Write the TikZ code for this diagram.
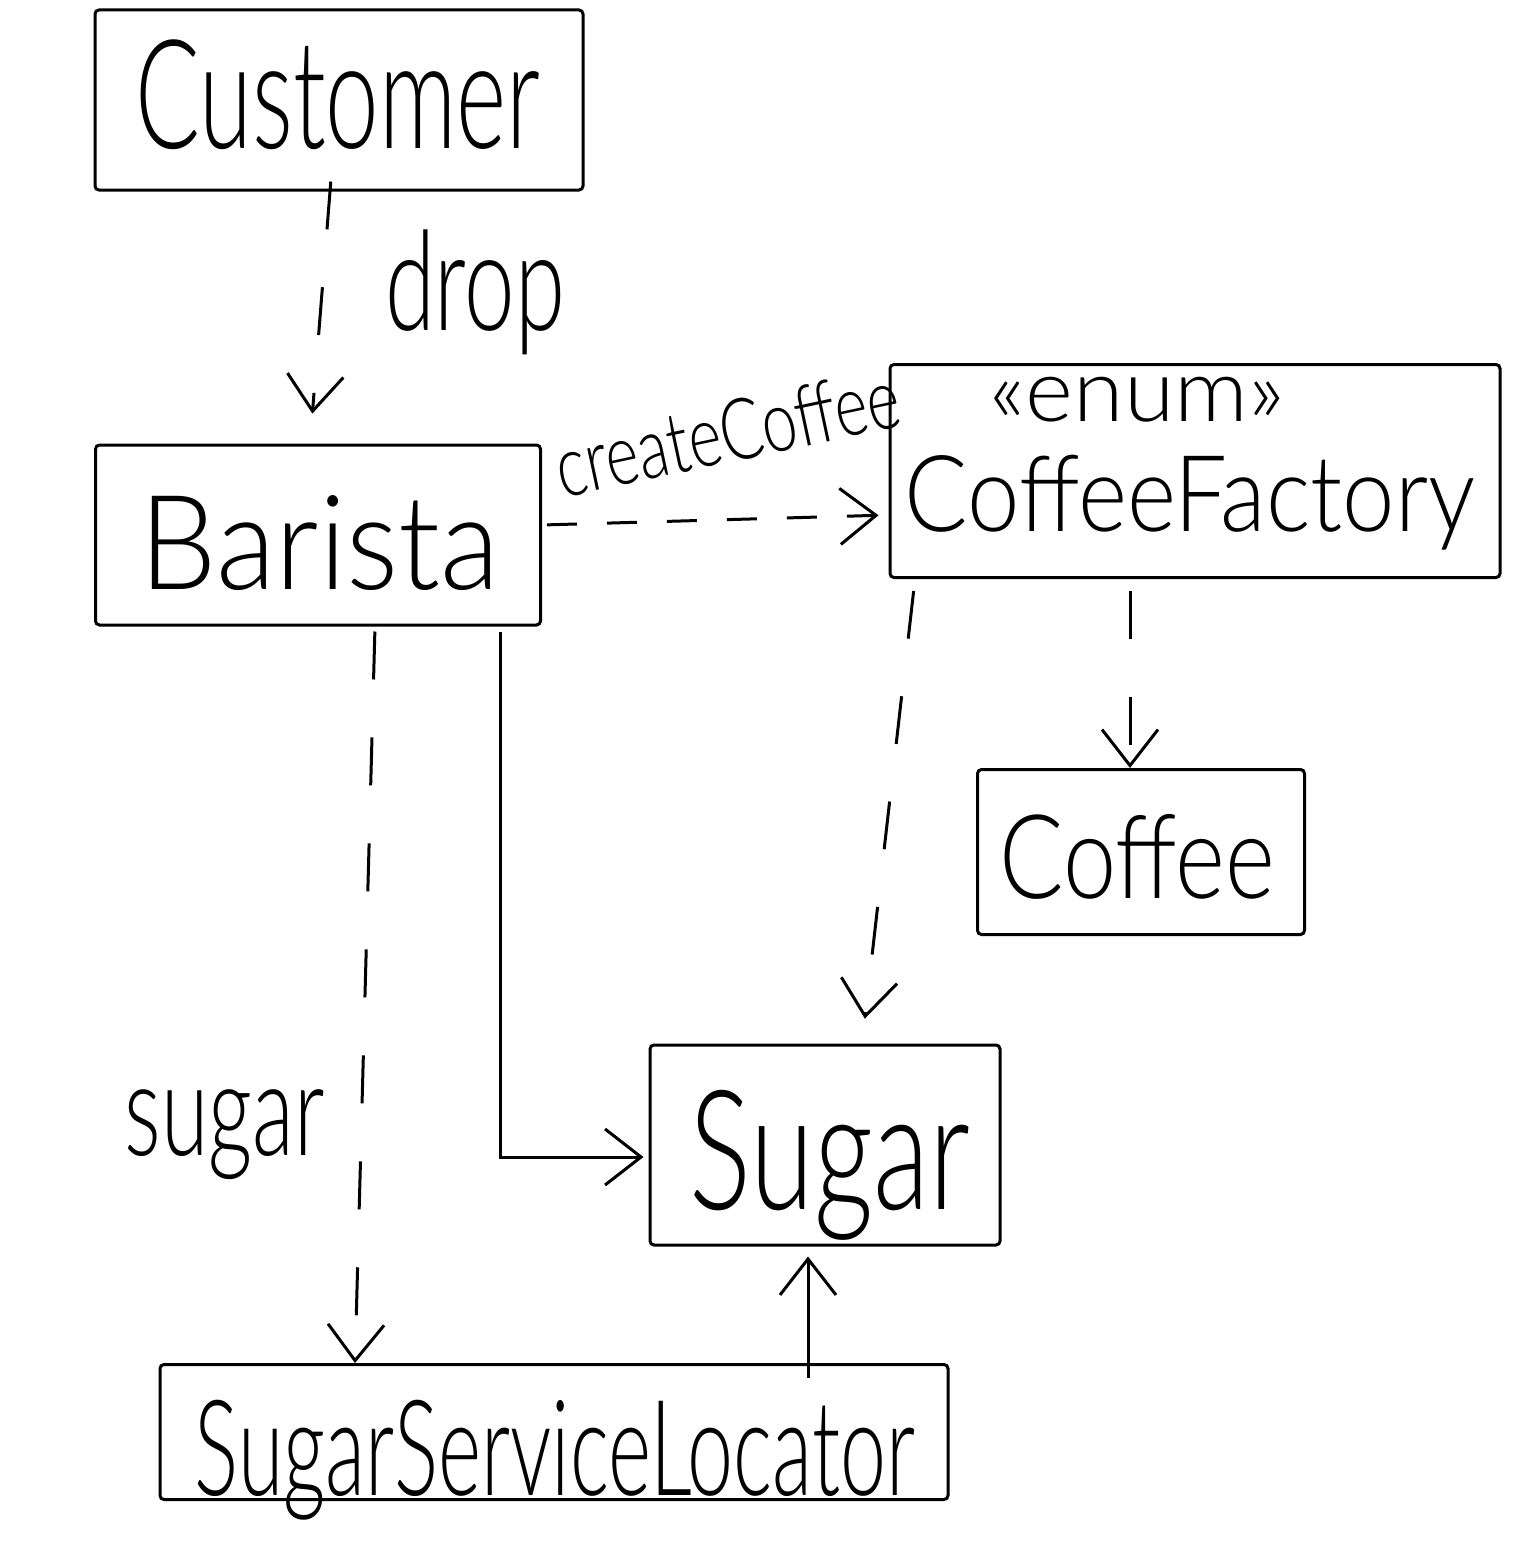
\documentclass[tikz,border=0pt]{standalone}
\usepackage{fontspec}
\setmainfont{Lato}[UprightFont=* Light]
\usepackage{graphicx}
\usetikzlibrary{arrows.meta,calc}
\newcommand{\fitt}[3]{\resizebox*{#1}{#2}{#3}}
\begin{document}
\begin{tikzpicture}[x=1pt,y=-1pt,
  box/.style={draw,line width=3pt,inner sep=0pt,rounded corners=4pt},
  lbl/.style={inner sep=0pt,anchor=center},
  dep/.style={line width=3pt,dash pattern=on 48pt off 58pt},
  hdep/.style={line width=3pt,dash pattern=on 30pt off 30pt},
  sol/.style={line width=3pt},
  vee/.style={-{Straight Barb[length=36pt,width=56pt,line width=3pt]}}]
\fill[white] (0,0) rectangle (1536,1552);
\useasboundingbox (0,0) rectangle (1536,1552);
% boxes
\node[box,minimum width=488pt,minimum height=180pt] (cust) at (339,100) {};
\node[box,minimum width=445pt,minimum height=180pt] (bar) at (318,535) {};
\node[box,minimum width=610pt,minimum height=213pt] (cf) at (1195,471) {};
\node[box,minimum width=327pt,minimum height=165pt] (coffee) at (1141,852) {};
\node[box,minimum width=350pt,minimum height=200pt] (sugar) at (825,1145) {};
\node[box,minimum width=788pt,minimum height=135pt] (ssl) at (554,1432) {};
% texts
\node[lbl] (tcust) at (338,95) {\fitt{405pt}{110pt}{Customer}};
\node[lbl] (tbar) at (320,543) {\fitt{360pt}{95pt}{Barista}};
\node[lbl] (tenum) at (1137,400) {\fitt{295pt}{45pt}{«enum»}};
\node[lbl] (tcf) at (1190,503) {\fitt{570pt}{95pt}{CoffeeFactory}};
\node[lbl] (tcoffee) at (1137,857) {\fitt{275pt}{85pt}{Coffee}};
\node[lbl] (tsugar) at (830,1165) {\fitt{280pt}{150pt}{Sugar}};
\node[lbl] (tssl) at (555,1460) {\fitt{720pt}{120pt}{SugarServiceLocator}};
% labels
\node[lbl] (ldrop) at (475,292) {\fitt{180pt}{125pt}{drop}};
\node[lbl,rotate=12] (lcc) at (727,432) {\fitt{350pt}{62pt}{createCoffee}};
\node[lbl] (lsugar) at (225,1135) {\fitt{200pt}{90pt}{sugar}};
% connectors
\draw[dep,vee,shorten <=-10pt,shorten >=30pt] ([xshift=-9pt]cust.south) -- ([xshift=-8pt]bar.north);
\draw[hdep,vee,shorten <=5pt,shorten >=10pt] ([yshift=10pt]bar.east) -- ([yshift=-44pt]cf.west);
\draw[dep,vee,shorten <=12pt] ([xshift=-65pt]cf.south) -- ([xshift=-65pt]cf.south |- coffee.north);
\draw[dep,vee,shorten <=12pt,shorten >=25pt] ([xshift=-280pt]cf.south) -- ([xshift=37pt]sugar.north);
\draw[dep,vee,shorten <=5pt] ([xshift=57pt]bar.south) -- ([xshift=-199pt]ssl.north);
\draw[sol,vee,shorten >=5pt] ([xshift=182pt,yshift=-5pt]bar.south) |- ([yshift=-12pt]sugar.west);
\draw[sol,vee,shorten >=10pt] ([xshift=254pt,yshift=-15pt]ssl.north) -- ([xshift=254pt]ssl.north |- sugar.south);
\end{tikzpicture}
\end{document}
